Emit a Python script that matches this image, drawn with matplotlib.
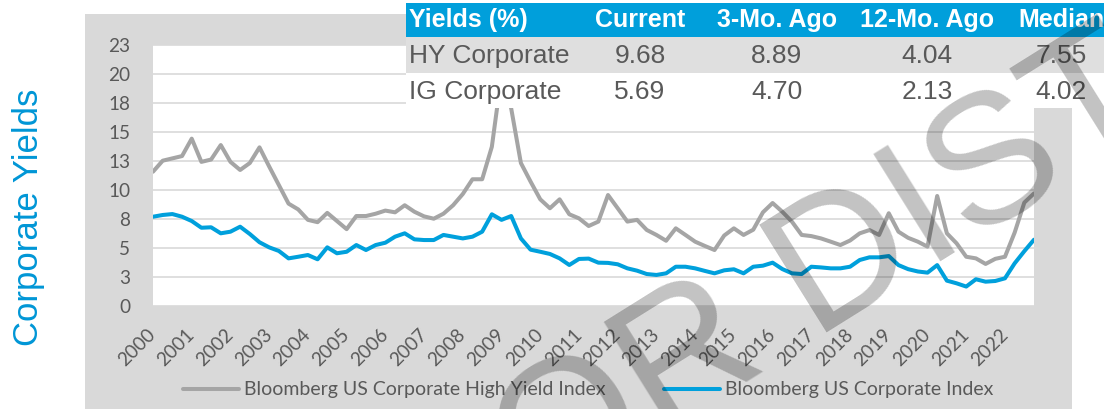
import matplotlib.pyplot as plt
from matplotlib.patches import Rectangle
import numpy as np

# quarterly yields, first point ~ end of 1999, last Sep 2022
hy_yield = [11.55, 12.5, 12.7, 12.9, 14.4, 12.4, 12.6, 13.85, 12.4, 11.7,
            12.3, 13.65, 12.0, 10.4, 8.8, 8.3, 7.4, 7.2, 8.0, 7.3,
            6.6, 7.73, 7.73, 7.93, 8.2, 8.05, 8.66, 8.1, 7.7, 7.5,
            7.93, 8.66, 9.63, 10.9, 10.9, 13.7, 19.9, 17.0, 12.3, 10.7,
            9.17, 8.4, 9.17, 7.88, 7.53, 6.87, 7.25, 9.54, 8.4, 7.25,
            7.4, 6.53, 6.1, 5.6, 6.67, 6.1, 5.52, 5.15, 4.8, 6.05,
            6.67, 6.1, 6.55, 8.05, 8.85, 8.1, 7.24, 6.1, 6.0, 5.8,
            5.52, 5.23, 5.62, 6.24, 6.52, 6.1, 7.97, 6.38, 5.85, 5.52,
            5.09, 9.46, 6.24, 5.38, 4.22, 4.08, 3.6, 4.04, 4.22, 6.3,
            8.89, 9.68]
ig_yield = [7.67, 7.82, 7.9, 7.67, 7.3, 6.72, 6.76, 6.24, 6.38, 6.81,
            6.18, 5.47, 5.03, 4.72, 4.08, 4.22, 4.37, 4.0, 5.03, 4.52,
            4.65, 5.23, 4.8, 5.23, 5.43, 5.95, 6.24, 5.72, 5.66, 5.66,
            6.1, 5.95, 5.8, 5.95, 6.38, 7.88, 7.4, 7.73, 5.8, 4.83,
            4.65, 4.46, 4.08, 3.51, 4.03, 4.06, 3.71, 3.69, 3.57, 3.22,
            3.02, 2.73, 2.65, 2.79, 3.36, 3.36, 3.22, 3.0, 2.79, 3.05,
            3.14, 2.79, 3.36, 3.45, 3.71, 3.16, 2.79, 2.73, 3.36, 3.3,
            3.22, 3.22, 3.36, 3.94, 4.17, 4.17, 4.28, 3.5, 3.15, 2.95,
            2.85, 3.5, 2.16, 1.93, 1.65, 2.28, 2.07, 2.13, 2.36, 3.65,
            4.70, 5.69]
years = [str(y) for y in range(2000, 2023)]
y_ticks = [0, 2.5, 5, 7.5, 10, 12.5, 15, 17.5, 20, 22.5]
y_tick_labels = ['0', '3', '5', '8', '10', '13', '15', '18', '20', '23']

hy_name = 'Bloomberg US Corporate High Yield Index'
ig_name = 'Bloomberg US Corporate Index'

table_header = ['Yields (%)', 'Current', '3-Mo. Ago', '12-Mo. Ago', 'Median']
table_rows = ['HY Corporate', 'IG Corporate']
current = [9.68, 5.69]
three_mo = [8.89, 4.70]
twelve_mo = [4.04, 2.13]
median = [7.55, 4.02]

GREY = '#A5A5A5'
BLUE = '#00A0DC'
TXT = '#595959'

W, H = 1104, 409
fig = plt.figure(figsize=(W / 100, H / 100), dpi=100)

def fx(px):
    return px / W

def fy(py):
    return 1 - py / H

# outer chart area
fig.patches.append(Rectangle((fx(85), 0), fx(1072 - 85), fy(14), transform=fig.transFigure,
                             facecolor='#D9D9D9', edgecolor='none', zorder=-5))

ax = fig.add_axes([fx(153), fy(305.7), fx(1034 - 153), (305.7 - 44.7) / H])
ax.set_facecolor('white')

x = np.arange(len(hy_yield))
ax.plot(x, hy_yield, color=GREY, lw=2.9, solid_joinstyle='round', solid_capstyle='round', label=hy_name)
ax.plot(x, ig_yield, color=BLUE, lw=2.9, solid_joinstyle='round', solid_capstyle='round', label=ig_name)

ax.set_xlim(0, len(hy_yield) - 1)
ax.set_ylim(0, 22.5)
ax.set_yticks(y_ticks)
ax.set_yticklabels(y_tick_labels, fontsize=13.7, color=TXT, family='Lato')
ax.set_xticks(np.arange(0, 4 * len(years), 4))
ax.set_xticklabels(years, fontsize=13.7, color=TXT, family='Lato', rotation=45,
                   ha='right', va='center', rotation_mode='anchor')
ax.tick_params(axis='x', length=0, pad=19)
ax.tick_params(axis='y', length=0, pad=16.5)
ax.yaxis.grid(True, color='#D9D9D9', lw=1.2)
ax.set_axisbelow(True)
for s in ax.spines.values():
    s.set_visible(False)

fig.text(fx(29), fy(217), 'Corporate Yields', rotation=90, ha='center', va='center',
         fontsize=25, color='#0096D6', family='Liberation Sans')

fig.legend(loc='center', bbox_to_anchor=(fx(588), fy(390)), ncol=2, frameon=False,
           prop={'family': 'Lato', 'size': 14}, labelcolor=TXT,
           handlelength=2.9, handletextpad=0.25, columnspacing=3.0)

# table overlay
fig.patches.append(Rectangle((fx(406), fy(37)), fx(W - 406), 34 / H, transform=fig.transFigure,
                             facecolor='#009FDB', edgecolor='none', zorder=5))
fig.patches.append(Rectangle((fx(406), fy(73)), fx(W - 406), 36 / H, transform=fig.transFigure,
                             facecolor='#DFDFDF', edgecolor='none', zorder=5))
fig.patches.append(Rectangle((fx(406), fy(108)), fx(W - 406), 35 / H, transform=fig.transFigure,
                             facecolor='white', edgecolor='none', zorder=5))

col_x = [640, 777, 927, 1061]
fig.text(fx(409), fy(20), table_header[0], ha='left', va='center', fontsize=18,
         weight='bold', color='white', family='Liberation Sans', zorder=6)
for cx, head in zip(col_x, table_header[1:]):
    fig.text(fx(cx), fy(20), head, ha='center', va='center', fontsize=18,
             weight='bold', color='white', family='Liberation Sans', zorder=6)

row_y = [56, 92]
for i, name in enumerate(table_rows):
    fig.text(fx(409), fy(row_y[i]), name, ha='left', va='center', fontsize=19,
             color=TXT, family='Liberation Sans', zorder=6)
    vals = [current[i], three_mo[i], twelve_mo[i], median[i]]
    for cx, v in zip(col_x, vals):
        fig.text(fx(cx), fy(row_y[i]), '%.2f' % v, ha='center', va='center', fontsize=19,
                 color=TXT, family='Liberation Sans', zorder=6)

# watermark
fig.text(fx(443), fy(572), 'FOR DISTRIBUTION', rotation=32, rotation_mode='anchor',
         ha='left', va='baseline', fontsize=132, color='black', alpha=0.24,
         family='Liberation Sans', zorder=50)

fig.savefig('out.png', dpi=100)
